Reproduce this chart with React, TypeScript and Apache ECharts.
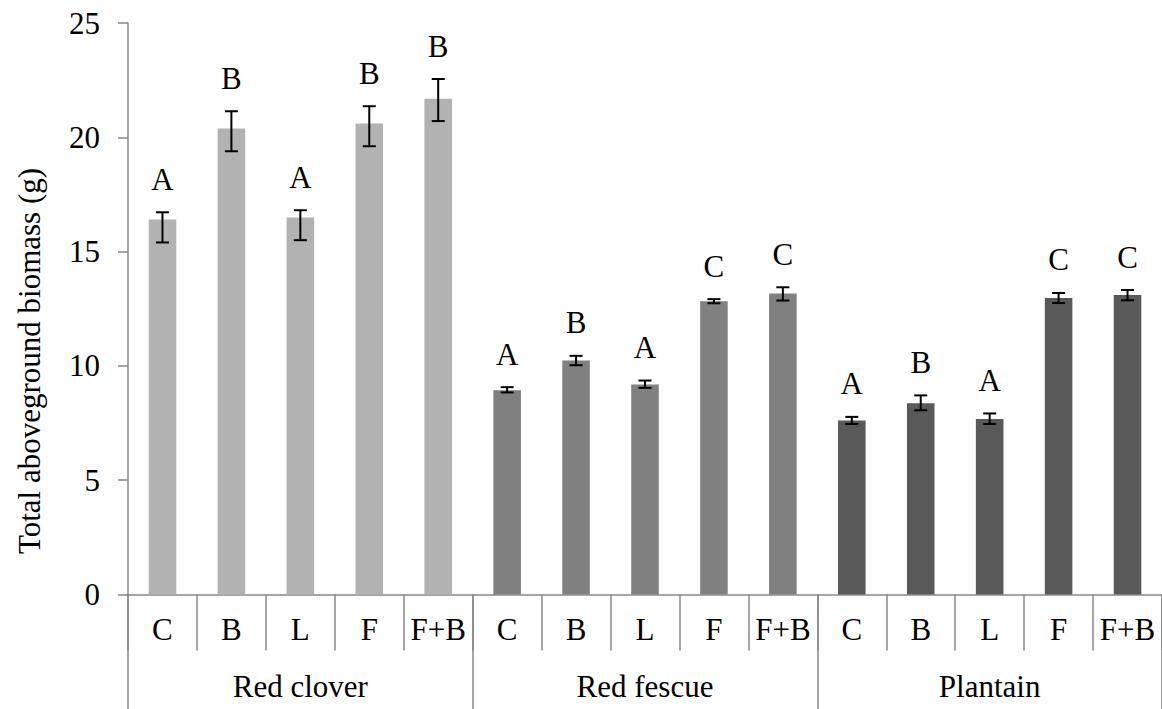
import React, { useEffect, useRef } from "react";
import * as echarts from "echarts";

// Treatments within each plant species
const treatments = ["C", "B", "L", "F", "F+B"];
const species = ["Red clover", "Red fescue", "Plantain"];

// Mean total aboveground biomass (g)
const redCloverMean = [16.4, 20.38, 16.49, 20.6, 21.69];
const redFescueMean = [8.94, 10.24, 9.19, 12.83, 13.17];
const plantainMean = [7.61, 8.37, 7.68, 12.97, 13.1];

// Error bar bounds (g)
const redCloverLow = [15.4, 19.39, 15.5, 19.61, 20.71];
const redCloverHigh = [16.72, 21.14, 16.81, 21.36, 22.55];
const redFescueLow = [8.84, 10.03, 9.04, 12.74, 12.86];
const redFescueHigh = [9.07, 10.44, 9.36, 12.92, 13.44];
const plantainLow = [7.46, 8.06, 7.46, 12.75, 12.87];
const plantainHigh = [7.77, 8.71, 7.92, 13.19, 13.32];

// Significance letters
const redCloverLetters = ["A", "B", "A", "B", "B"];
const redFescueLetters = ["A", "B", "A", "C", "C"];
const plantainLetters = ["A", "B", "A", "C", "C"];

const yTicks = [0, 5, 10, 15, 20, 25];

const speciesColors = ["#b2b2b2", "#808080", "#595959"];
const FONT = "Times New Roman, Liberation Serif, serif";
const AXIS_GREY = "#898989";

export default function App() {
  const ref = useRef<HTMLDivElement>(null);

  useEffect(() => {
    if (!ref.current) return;
    const chart = echarts.init(ref.current, undefined, { renderer: "svg" });

    const means = [redCloverMean, redFescueMean, plantainMean];
    const lows = [redCloverLow, redFescueLow, plantainLow];
    const highs = [redCloverHigh, redFescueHigh, plantainHigh];
    const letterSets = [redCloverLetters, redFescueLetters, plantainLetters];

    const categories: string[] = [];
    const barData: any[] = [];
    const errData: number[][] = [];
    const letterData: number[][] = [];
    const letters: string[] = [];
    species.forEach((_, s) => {
      treatments.forEach((t, i) => {
        const idx = categories.length;
        categories.push(t);
        barData.push({ value: means[s][i], itemStyle: { color: speciesColors[s] } });
        errData.push([idx, lows[s][i], highs[s][i]]);
        letterData.push([idx, highs[s][i]]);
        letters.push(letterSets[s][i]);
      });
    });

    const option: any = {
      animation: false,
      textStyle: { fontFamily: FONT },
      grid: { left: 128, top: 23, width: 1038, height: 571.5, containLabel: false },
      graphic: [
        {
          type: "text",
          x: 29,
          y: 361,
          rotation: Math.PI / 2,
          style: {
            text: "Total aboveground biomass (g)",
            fontFamily: FONT,
            fontSize: 31,
            fill: "#000",
            align: "center",
            verticalAlign: "middle",
          },
        },
      ],
      xAxis: [
        {
          type: "category",
          data: categories,
          position: "bottom",
          axisLine: { show: true, lineStyle: { color: AXIS_GREY, width: 1.5 } },
          axisTick: {
            show: true,
            interval: 0,
            length: 56,
            lineStyle: { color: AXIS_GREY, width: 1.5 },
          },
          axisLabel: {
            interval: 0,
            margin: 19,
            color: "#000",
            fontFamily: FONT,
            fontSize: 31,
          },
          splitLine: { show: false },
        },
        {
          type: "category",
          data: species,
          position: "bottom",
          axisLine: { show: false },
          axisTick: {
            show: true,
            interval: 0,
            length: 120,
            lineStyle: { color: AXIS_GREY, width: 1.5 },
          },
          axisLabel: {
            interval: 0,
            margin: 76,
            color: "#000",
            fontFamily: FONT,
            fontSize: 31,
          },
          splitLine: { show: false },
        },
      ],
      yAxis: {
        type: "value",
        min: yTicks[0],
        max: yTicks[yTicks.length - 1],
        interval: 5,
        axisLine: { show: true, lineStyle: { color: AXIS_GREY, width: 1.5 } },
        axisTick: { show: true, length: 10, lineStyle: { color: AXIS_GREY, width: 1.5 } },
        axisLabel: { margin: 28, color: "#000", fontFamily: FONT, fontSize: 31 },
        splitLine: { show: false },
      },
      series: [
        {
          type: "bar",
          xAxisIndex: 0,
          data: barData,
          barWidth: "40%",
          itemStyle: { borderWidth: 0 },
        },
        {
          type: "custom",
          xAxisIndex: 0,
          data: errData,
          z: 5,
          renderItem: (params: any, api: any) => {
            const x = api.value(0);
            const top = api.coord([x, api.value(2)]);
            const bot = api.coord([x, api.value(1)]);
            const half = 6.5;
            const style = { stroke: "#000", lineWidth: 2 };
            return {
              type: "group",
              children: [
                { type: "line", shape: { x1: top[0], y1: top[1], x2: bot[0], y2: bot[1] }, style },
                { type: "line", shape: { x1: top[0] - half, y1: top[1], x2: top[0] + half, y2: top[1] }, style },
                { type: "line", shape: { x1: bot[0] - half, y1: bot[1], x2: bot[0] + half, y2: bot[1] }, style },
              ],
            };
          },
        },
        {
          type: "custom",
          xAxisIndex: 0,
          data: letterData,
          z: 6,
          renderItem: (params: any, api: any) => {
            const p = api.coord([api.value(0), api.value(1)]);
            return {
              type: "text",
              x: p[0],
              y: p[1] - 33,
              style: {
                text: letters[params.dataIndex],
                fontFamily: FONT,
                fontSize: 31,
                fill: "#000",
                align: "center",
                verticalAlign: "middle",
              },
            };
          },
        },
      ],
    };

    chart.setOption(option);
    return () => chart.dispose();
  }, []);

  return (
    <div
      ref={ref}
      style={{ position: "fixed", left: 0, top: 0, width: 1162, height: 709, background: "#fff" }}
    />
  );
}
